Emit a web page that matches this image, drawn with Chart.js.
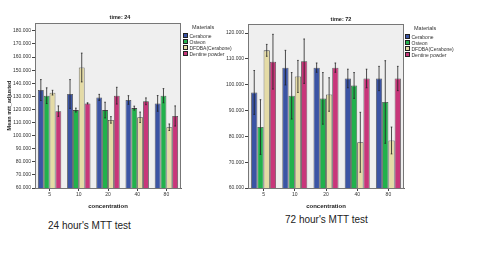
<!DOCTYPE html>
<html>
<head>
<meta charset="utf-8">
<script src="https://cdn.jsdelivr.net/npm/chart.js@4.4.1/dist/chart.umd.min.js"></script>
<style>
  body { margin: 0; background: #fff; font-family: "Liberation Sans", Arial, sans-serif; }
  #page { position: relative; width: 481px; height: 259px; overflow: hidden; }
  canvas { position: absolute; top: 0; }
  .ttl { position: absolute; font-size: 5.5px; font-weight: bold; color: #222; transform: translate(-50%, -50%); white-space: nowrap; }
  .legend { position: absolute; font-size: 5px; color: #333; line-height: 5.6px; }
  .legend .head { font-size: 5.5px; margin-left: 9px; margin-bottom: 2px; }
  .legend .row { white-space: nowrap; }
  .legend .sw { display: inline-block; width: 3px; height: 3px; border: 0.5px solid #222; margin-right: 1.5px; vertical-align: -0.5px; }
  .caption { position: absolute; font-size: 10px; color: #222; white-space: nowrap; }
</style>
</head>
<body>
<div id="page">
  <canvas id="chart24" width="182" height="210" style="left:0px"></canvas>
  <canvas id="chart72" width="181" height="210" style="left:224px"></canvas>
  <div class="ttl" style="left:120px; top:17px">time: 24</div>
  <div class="ttl" style="left:341px; top:19px">time: 72</div>
  <div class="legend" id="legend24" style="left:183px; top:25px"></div>
  <div class="legend" id="legend72" style="left:405px; top:26px"></div>
  <div class="caption" style="left:48px; top:220px">24 hour's MTT test</div>
  <div class="caption" style="left:285px; top:214px">72 hour's MTT test</div>
</div>
<script>
// categories and series
const concentrations = ['5', '10', '20', '40', '80'];
const materials = ['Cerabone', 'Osteon', 'DFDBA(Cerabone)', 'Dentine powder'];
const colors = ['#3b54a4', '#22b14c', '#e4dba6', '#c8367a'];

// 24 hour means (one list per material) and error half-widths
const cerabone24 = [134.8, 131.8, 129.2, 127.2, 124.6];
const osteon24 = [130.5, 119.5, 119.5, 121.0, 130.5];
const dfdba24 = [132.8, 152.0, 112.0, 114.0, 106.4];
const dentine24 = [118.7, 124.6, 130.5, 126.2, 115.0];
const cerabone24Err = [8, 11, 2.3, 3.3, 6];
const osteon24Err = [6, 1.5, 6, 1.5, 5.4];
const dfdba24Err = [1.8, 11, 2.5, 4, 2.5];
const dentine24Err = [4, 0.5, 6.4, 2.6, 7.7];

// 72 hour means and error half-widths
const cerabone72 = [97.0, 106.6, 106.6, 102.4, 102.4];
const osteon72 = [83.6, 95.7, 94.7, 99.7, 93.3];
const dfdba72 = [113.3, 103.2, 96.2, 77.7, 78.4];
const dentine72 = [108.9, 109.1, 106.6, 102.4, 102.4];
const cerabone72Err = [8.5, 6.7, 1.8, 3.6, 4.7];
const osteon72Err = [10.6, 9, 10, 5, 16];
const dfdba72Err = [2.3, 6.2, 6.5, 11.6, 5.2];
const dentine72Err = [10.6, 8.6, 1.8, 3.6, 4.7];

// axis ranges
const yMin24 = 60, yMax24 = 186;
const yMin72 = 60, yMax72 = 123.5;
const yStep = 10;

const FONT = '"Liberation Sans", Arial, sans-serif';

// plot background + frame
const plotFrame = {
    id: 'plotFrame',
    beforeDraw(chart) {
        const a = chart.chartArea, ctx = chart.ctx;
        ctx.save();
        ctx.fillStyle = '#efefef';
        ctx.fillRect(a.left, a.top, a.right - a.left, a.bottom - a.top);
        ctx.restore();
    },
    afterDraw(chart) {
        const a = chart.chartArea, ctx = chart.ctx;
        ctx.save();
        ctx.strokeStyle = '#777';
        ctx.lineWidth = 1;
        ctx.strokeRect(a.left + 0.5, a.top + 0.5, a.right - a.left - 1, a.bottom - a.top);
        ctx.restore();
    }
};

// error bars drawn from each dataset's "errors" list
const errorBars = {
    id: 'errorBars',
    afterDatasetsDraw(chart) {
        const ctx = chart.ctx, y = chart.scales.y;
        ctx.save();
        ctx.strokeStyle = '#222';
        ctx.lineWidth = 0.8;
        chart.data.datasets.forEach((ds, i) => {
            const meta = chart.getDatasetMeta(i);
            meta.data.forEach((bar, j) => {
                const m = ds.data[j], e = ds.errors[j];
                const top = y.getPixelForValue(m + e);
                const bot = y.getPixelForValue(m - e);
                ctx.beginPath();
                ctx.moveTo(bar.x, top); ctx.lineTo(bar.x, bot);
                ctx.moveTo(bar.x - 0.8, top); ctx.lineTo(bar.x + 0.8, top);
                ctx.moveTo(bar.x - 0.8, bot); ctx.lineTo(bar.x + 0.8, bot);
                ctx.stroke();
            });
        });
        ctx.restore();
    }
};

function buildLegend(id) {
    const el = document.getElementById(id);
    let html = '<div class="head">Materials</div>';
    materials.forEach((m, i) => {
        html += '<div class="row"><span class="sw" style="background:' + colors[i] + '"></span>' + m + '</div>';
    });
    el.innerHTML = html;
}

function makeChart(id, series, errs, yMin, yMax, opts) {
    const datasets = materials.map((m, i) => ({
        label: m,
        data: series[i],
        errors: errs[i],
        backgroundColor: colors[i],
        borderColor: 'rgba(20,20,20,0.75)',
        borderWidth: 0.8,
        borderSkipped: 'bottom',
        categoryPercentage: 0.8,
        barPercentage: 1.0
    }));

    return new Chart(document.getElementById(id), {
        type: 'bar',
        data: { labels: concentrations, datasets: datasets },
        options: {
            responsive: false,
            animation: false,
            devicePixelRatio: 1,
            layout: { padding: { top: opts.top, right: 1, left: 0, bottom: 0 } },
            plugins: { legend: { display: false }, tooltip: { enabled: false } },
            scales: {
                x: {
                    grid: { drawOnChartArea: false, offset: false, tickLength: 3, color: '#444' },
                    border: { color: '#666' },
                    ticks: { font: { family: FONT, size: 5 }, color: '#333', padding: 1, maxRotation: 0 },
                    title: { display: true, text: 'concentration', font: { family: FONT, size: 6, weight: 'bold' }, color: '#222', padding: { top: 3, bottom: 0 } },
                    afterFit: s => { s.height = 22; }
                },
                y: {
                    min: yMin,
                    max: yMax,
                    afterBuildTicks: s => { s.ticks = s.ticks.filter(t => t.value % yStep === 0); },
                    grid: { drawOnChartArea: false, tickLength: 3, color: '#444' },
                    border: { color: '#666' },
                    ticks: {
                        stepSize: yStep,
                        autoSkip: false,
                        font: { family: FONT, size: 5 },
                        color: '#333',
                        padding: 1,
                        callback: v => v.toFixed(3)
                    },
                    title: {
                        display: opts.yTitle,
                        text: 'Mean mtt_adjusted',
                        font: { family: FONT, size: 5.5, weight: 'bold' },
                        color: '#222',
                        padding: { top: 6, bottom: 0 }
                    },
                    afterFit: s => { s.width = opts.yWidth; }
                }
            }
        },
        plugins: [plotFrame, errorBars]
    });
}

makeChart('chart24',
    [cerabone24, osteon24, dfdba24, dentine24],
    [cerabone24Err, osteon24Err, dfdba24Err, dentine24Err],
    yMin24, yMax24, { top: 23, yWidth: 35, yTitle: true });

makeChart('chart72',
    [cerabone72, osteon72, dfdba72, dentine72],
    [cerabone72Err, osteon72Err, dfdba72Err, dentine72Err],
    yMin72, yMax72, { top: 24, yWidth: 24, yTitle: false });

buildLegend('legend24');
buildLegend('legend72');
</script>
</body>
</html>
